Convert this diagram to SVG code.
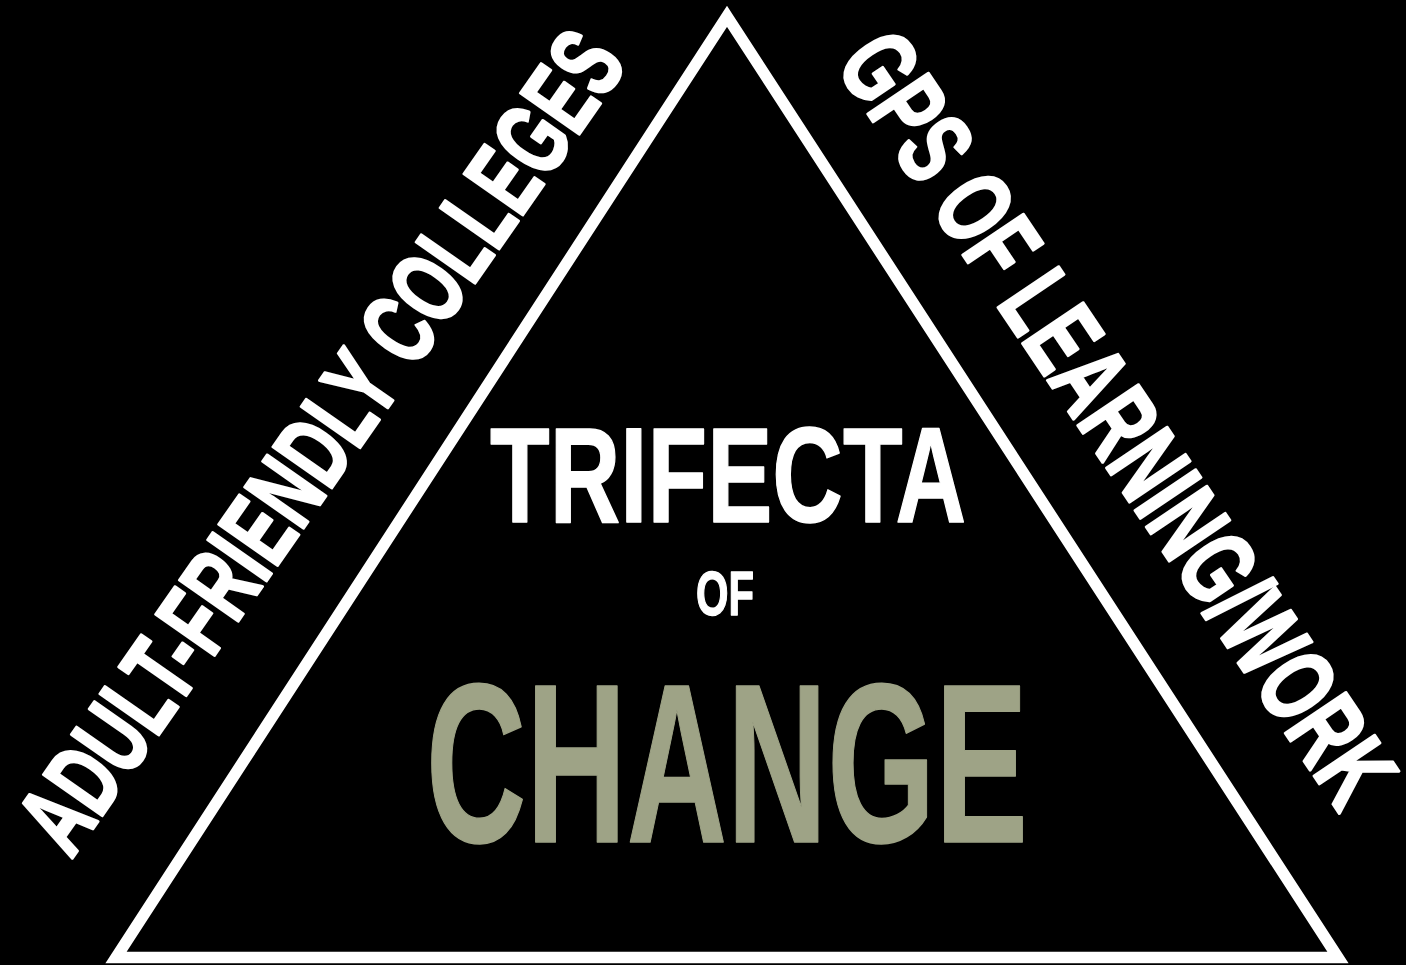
<svg xmlns="http://www.w3.org/2000/svg" width="1406" height="965" viewBox="0 0 1406 965">
<style>
.lbl{font-family:"Liberation Sans",Arial,sans-serif;font-weight:bold;fill:#fff}
.side{stroke:#fff;stroke-width:3;stroke-linejoin:round}
.ctr{stroke-width:1.5;stroke-linejoin:round}
</style>
<rect width="1406" height="965" fill="#000"/>
<g id="connectors">
<polygon id="triangle" points="727,16.3 1338,957.5 116,957.5" fill="none" stroke="#fff" stroke-width="11.5" stroke-linejoin="miter" stroke-miterlimit="10"/>
</g>
<g id="side-left">
<text class="lbl side" font-size="104" transform="translate(71,860) rotate(-55)" textLength="972" lengthAdjust="spacingAndGlyphs">ADULT-FRIENDLY COLLEGES</text>
</g>
<g id="side-right">
<text class="lbl side" font-size="106" transform="translate(834,64) rotate(56)" textLength="905" lengthAdjust="spacingAndGlyphs">GPS OF LEARNING/WORK</text>
</g>
<g id="title">
<text class="lbl ctr" x="490" y="522" font-size="135" textLength="476" lengthAdjust="spacingAndGlyphs" style="stroke:#fff">TRIFECTA</text>
<text class="lbl ctr" x="696" y="615" font-size="63" textLength="58" lengthAdjust="spacingAndGlyphs" style="stroke:#fff">OF</text>
<text class="lbl ctr" x="426" y="842" font-size="226" textLength="602" lengthAdjust="spacingAndGlyphs" style="fill:#9ea386;stroke:#9ea386">CHANGE</text>
</g>
</svg>
